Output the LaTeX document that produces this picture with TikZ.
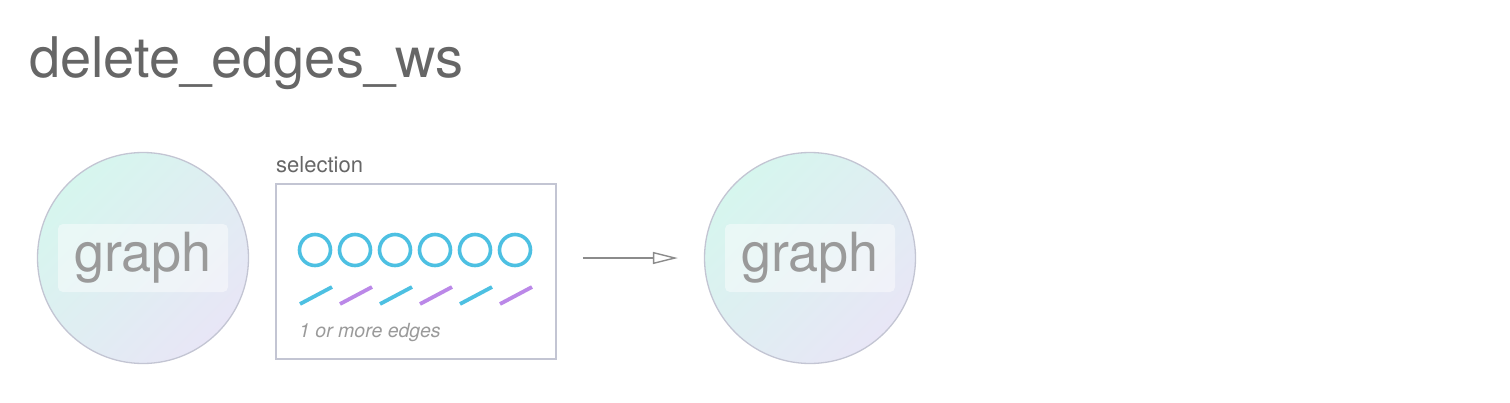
\documentclass[tikz,border=0pt]{standalone}
\usepackage{fontspec}
\setmainfont{TeX Gyre Heros}
\usetikzlibrary{arrows.meta, positioning}
\definecolor{titlegray}{HTML}{666666}
\definecolor{labelgray}{HTML}{9A9A9A}
\definecolor{rimgray}{HTML}{C3C5D3}
\definecolor{mint}{HTML}{D6F6EE}
\definecolor{lavender}{HTML}{E8E6F6}
\definecolor{nodecyan}{HTML}{4DC0E2}
\definecolor{edgepurple}{HTML}{BB88E8}
\begin{document}
\begin{tikzpicture}[
  x=1pt, y=-1pt,
  graphnode/.style={circle, draw=rimgray, line width=1.3pt, minimum size=211pt, inner sep=0pt,
    shading=axis, top color=mint, bottom color=lavender, shading angle=45},
  tag/.style={rectangle, rounded corners=5pt, fill=white, fill opacity=0.45, text opacity=1,
    minimum width=170pt, minimum height=68pt, text=labelgray, font=\fontsize{54}{58}\selectfont},
  selbox/.style={rectangle, draw=rimgray, line width=1.5pt, minimum width=280pt, minimum height=175pt},
  vtx/.style={circle, draw=nodecyan, line width=3.6pt, minimum size=31pt, inner sep=0pt},
  arr/.style={-{Triangle[open, length=25pt, width=12pt]}, line width=1.4pt, draw=labelgray!90!black},
]
\useasboundingbox (0,0) rectangle (1510,402);

% Title
\node[anchor=base west, inner sep=0pt, text=titlegray, font=\fontsize{56}{60}\selectfont] (title) at (29,77) {delete\_edges\_ws};

% Input graph
\node[graphnode] (src) at (143,258) {};
\node[tag] at (src) {graph};

% Selection
\node[selbox] (sel) at (416,271.5) {};
\node[anchor=base west, inner sep=0pt, text=titlegray, font=\fontsize{22}{24}\selectfont] (sellabel) at (276,172) {selection};
\foreach \i in {0,...,5}
  \node[vtx] (v\i) at (315+40*\i,250) {};
\foreach \i/\c in {0/nodecyan, 1/edgepurple, 2/nodecyan, 3/edgepurple, 4/nodecyan, 5/edgepurple}
  \draw[\c, line width=3.8pt] (300+40*\i,304) -- (332+40*\i,287);
\node[anchor=base west, inner sep=0pt, text=labelgray, font=\fontsize{19.5}{21}\selectfont\itshape] (note) at (299,337) {1 or more edges};

% Output graph
\node[graphnode] (dst) at (810,258) {};
\node[tag] at (dst) {graph};

\draw[arr, shorten <=26pt, shorten >=26pt] (sel.east |- src) -- (dst.west);
\end{tikzpicture}
\end{document}
